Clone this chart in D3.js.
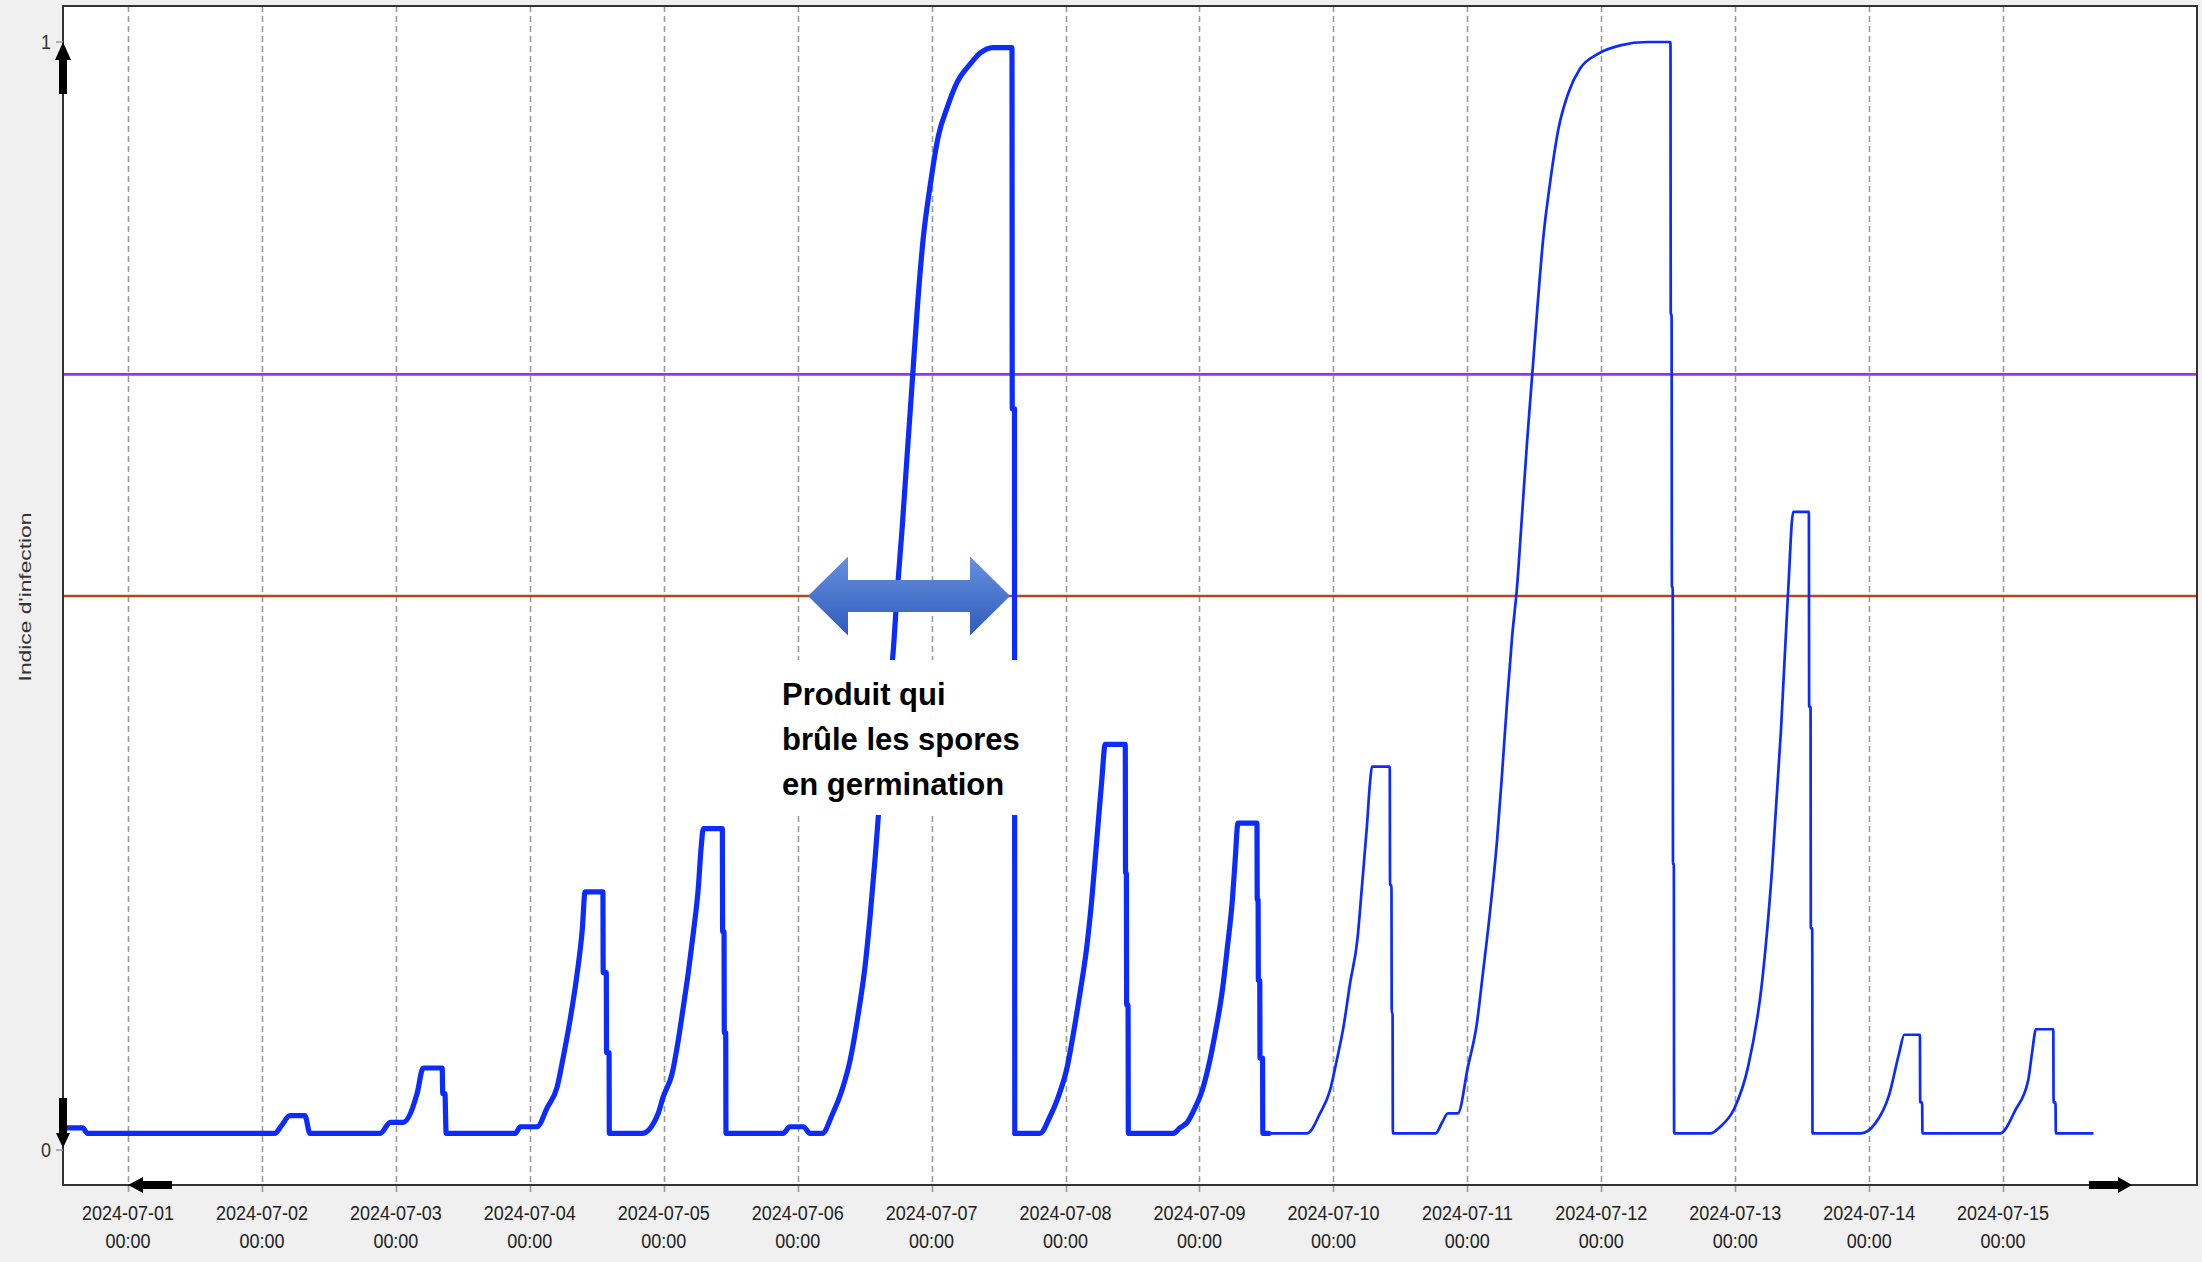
<!DOCTYPE html>
<html><head><meta charset="utf-8">
<script src="https://cdn.jsdelivr.net/npm/d3@7"></script>
<style>
html,body{margin:0;padding:0;background:#f0f0f0;}
svg{display:block;}
</style></head><body>
<svg id="chart" width="2202" height="1262"></svg>
<script>
// ---- DATA (hours since 2024-07-01 00:00, infection index) ----
const observedHours = [-11.65,-8.1,-7.3,26.3,27.5,29.0,31.7,32.6,45.2,47.0,49.3,51.8,52.9,56.3,56.4,56.8,56.9,57.0,
  69.4,70.3,73.3,75.1,76.9,78.0,79.2,80.5,81.4,81.9,85.1,85.15,85.7,85.75,86.2,86.25,
  92.1,95.0,95.9,97.5,98.6,99.5,100.4,101.3,102.2,102.7,103.1,106.5,106.55,106.8,106.85,107.1,107.15,
  117.4,118.6,121.0,122.2,124.4,126.2,128.0,129.4,130.8,132.1,133.0,133.9,134.8,135.6,136.4,137.1,137.8,138.7,139.6,140.5,141.4,142.5,143.7,145.2,146.8,148.6,150.9,152.7,155.0,158.4,158.45,158.85,158.9,
  163.4,165.2,166.7,168.3,169.4,170.6,171.8,172.7,173.6,174.5,175.1,178.7,178.75,178.9,178.95,179.2,179.25,
  187.3,188.5,189.8,191.2,192.5,193.6,194.8,196.1,197.0,197.9,198.4,198.9,202.3,202.35,202.5,202.55,202.8,202.85,203.3,203.35,204.4];
const observedIndex = [0.020,0.020,0.015,0.015,0.022,0.031,0.031,0.015,0.015,0.025,0.025,0.051,0.074,0.074,0.051,0.051,0.032,0.015,
  0.015,0.021,0.021,0.038,0.057,0.084,0.117,0.160,0.199,0.233,0.233,0.160,0.160,0.088,0.088,0.015,
  0.015,0.033,0.048,0.069,0.099,0.129,0.160,0.196,0.237,0.273,0.290,0.290,0.197,0.197,0.106,0.106,0.015,
  0.015,0.021,0.021,0.015,0.015,0.032,0.055,0.081,0.121,0.167,0.212,0.265,0.324,0.372,0.412,0.449,0.501,0.560,0.626,0.691,0.757,0.823,0.869,0.915,0.941,0.964,0.980,0.990,0.995,0.995,0.669,0.669,0.015,
  0.015,0.030,0.048,0.075,0.105,0.142,0.183,0.226,0.280,0.334,0.366,0.366,0.250,0.250,0.131,0.131,0.015,
  0.015,0.020,0.025,0.038,0.054,0.075,0.105,0.144,0.183,0.226,0.262,0.295,0.295,0.226,0.226,0.153,0.153,0.083,0.083,0.015,0.015];
const forecastHours = [204.4,211.3,213.6,215.4,216.6,217.8,219.0,220.3,221.1,222.0,222.6,222.9,226.1,226.15,226.4,226.45,226.6,226.65,
  234.3,235.5,236.5,238.3,240.1,241.7,242.8,244.0,245.3,246.2,247.1,248.0,248.9,249.8,250.7,251.6,252.5,253.6,254.8,256.3,258.1,260.2,263.3,267.4,272.2,276.4,276.45,276.6,276.65,276.8,276.85,277.0,277.05,
  283.6,285.3,287.8,290.3,292.8,294.6,296.2,297.5,298.4,301.2,301.25,301.5,301.55,301.8,301.85,
  310.5,313.1,315.6,317.4,318.3,321.1,321.15,321.5,321.55,
  335.5,338.2,340.5,341.2,341.9,345.0,345.05,345.4,345.45,352.2];
const forecastIndex = [0.015,0.015,0.033,0.054,0.081,0.111,0.151,0.190,0.237,0.292,0.334,0.346,0.346,0.239,0.239,0.124,0.124,0.015,
  0.015,0.025,0.033,0.033,0.075,0.114,0.160,0.212,0.278,0.338,0.403,0.462,0.508,0.573,0.639,0.698,0.757,0.823,0.872,0.921,0.954,0.976,0.989,0.997,1.0,1.0,0.754,0.754,0.508,0.508,0.258,0.258,0.015,
  0.015,0.021,0.037,0.075,0.151,0.253,0.379,0.506,0.576,0.576,0.400,0.400,0.200,0.200,0.015,
  0.015,0.024,0.050,0.088,0.104,0.104,0.043,0.043,0.015,
  0.015,0.036,0.063,0.088,0.109,0.109,0.043,0.043,0.015,0.015];
const thresholdValues = [0.5, 0.7];
const thresholdColors = ["#b8451d", "#a829f2"];
const dayTickLabels = ["2024-07-01","2024-07-02","2024-07-03","2024-07-04","2024-07-05","2024-07-06","2024-07-07","2024-07-08","2024-07-09","2024-07-10","2024-07-11","2024-07-12","2024-07-13","2024-07-14","2024-07-15"];
const timeTickLabel = "00:00";
const yTickValues = [0, 1];
const yAxisTitle = "Indice d'infection";
const annotationLines = ["Produit qui", "brûle les spores", "en germination"];
const arrowSpanHours = [121.85, 158.05];
const arrowValue = 0.5;
const domainHours = [-11.65, 370.75];

// ---- CHART ----
const svg = d3.select("#chart");
const frame = {left: 63, top: 6, right: 2197, bottom: 1185};
const base = Date.UTC(2024, 6, 1);
const toDate = h => new Date(base + h * 3600e3);
const x = d3.scaleUtc().domain(domainHours.map(toDate)).range([frame.left, frame.right]);
const y = d3.scaleLinear().domain([0, 1]).range([1150, 42]);
const FONT = "'Liberation Sans', Arial, sans-serif";

const defs = svg.append("defs");
defs.append("clipPath").attr("id", "plotclip").append("rect")
  .attr("x", frame.left).attr("y", frame.top)
  .attr("width", frame.right - frame.left).attr("height", frame.bottom - frame.top);
const grad = defs.append("linearGradient").attr("id", "arrowgrad")
  .attr("x1", 0).attr("y1", 0).attr("x2", 0).attr("y2", 1);
grad.append("stop").attr("offset", "0%").attr("stop-color", "#6690dc");
grad.append("stop").attr("offset", "100%").attr("stop-color", "#2f5cbd");

// plot background
svg.append("rect").attr("x", frame.left).attr("y", frame.top)
  .attr("width", frame.right - frame.left).attr("height", frame.bottom - frame.top)
  .attr("fill", "#ffffff");

// day ticks
const dayTicks = dayTickLabels.map(s => new Date(s + "T00:00:00Z"));
svg.append("g").selectAll("line").data(dayTicks).join("line")
  .attr("x1", d => Math.round(x(d)) + 0.5).attr("x2", d => Math.round(x(d)) + 0.5)
  .attr("y1", frame.top).attr("y2", frame.bottom + 10)
  .attr("stroke", "#9a9a9a").attr("stroke-width", 1.6).attr("stroke-dasharray", "6,4");

// threshold lines
svg.append("g").selectAll("line").data(thresholdValues).join("line")
  .attr("x1", frame.left).attr("x2", frame.right)
  .attr("y1", d => y(d)).attr("y2", d => y(d))
  .attr("stroke", (d, i) => thresholdColors[i]).attr("stroke-width", 2.6);

// series
const line = d3.line().curve(d3.curveMonotoneX).x(d => x(toDate(d[0]))).y(d => y(d[1]));
const obs = observedHours.map((h, i) => [h, observedIndex[i]]);
const fc = forecastHours.map((h, i) => [h, forecastIndex[i]]);
const gSeries = svg.append("g").attr("clip-path", "url(#plotclip)");
gSeries.append("path").attr("d", line(obs)).attr("fill", "none")
  .attr("stroke", "#0b2bff").attr("stroke-width", 5.2)
  .attr("stroke-linejoin", "round").attr("stroke-linecap", "round");
gSeries.append("path").attr("d", line(fc)).attr("fill", "none")
  .attr("stroke", "#0b2bff").attr("stroke-width", 2.7)
  .attr("stroke-linejoin", "round");

// annotation
const xl = x(toDate(arrowSpanHours[0])), xr = x(toDate(arrowSpanHours[1])), yc = y(arrowValue);
svg.append("rect").attr("x", xl - 32).attr("y", 660).attr("width", xr - xl + 44).attr("height", 155)
  .attr("fill", "#ffffff");
const hl = 40, hh = 39.5, sh = 16;
const arrowPts = [[xl, yc], [xl + hl, yc - hh], [xl + hl, yc - sh], [xr - hl, yc - sh], [xr - hl, yc - hh], [xr, yc],
  [xr - hl, yc + hh], [xr - hl, yc + sh], [xl + hl, yc + sh], [xl + hl, yc + hh]];
svg.append("path").attr("d", "M" + arrowPts.map(p => p.join(",")).join("L") + "Z")
  .attr("fill", "url(#arrowgrad)");
svg.append("g").selectAll("text").data(annotationLines).join("text")
  .attr("x", xl - 26).attr("y", (d, i) => 705 + i * 45)
  .attr("font-family", FONT).attr("font-weight", "bold").attr("font-size", 31)
  .attr("fill", "#000").text(d => d);

// frame
svg.append("rect").attr("x", frame.left).attr("y", frame.top)
  .attr("width", frame.right - frame.left).attr("height", frame.bottom - frame.top)
  .attr("fill", "none").attr("stroke", "#333").attr("stroke-width", 2);

// x tick labels
const gx = svg.append("g").selectAll("g").data(dayTicks).join("g")
  .attr("font-family", FONT).attr("font-size", 18).attr("fill", "#222").attr("text-anchor", "middle");
gx.append("text").attr("transform", d => `translate(${x(d)},1220) scale(1,1.15)`)
  .text((d, i) => dayTickLabels[i]);
gx.append("text").attr("transform", d => `translate(${x(d)},1248) scale(1,1.15)`)
  .text(timeTickLabel);

// y ticks
svg.append("g").selectAll("line").data(yTickValues).join("line")
  .attr("x1", 56).attr("x2", frame.left).attr("y1", d => y(d)).attr("y2", d => y(d))
  .attr("stroke", "#999").attr("stroke-width", 1.5);
svg.append("g").selectAll("text").data(yTickValues).join("text")
  .attr("transform", d => `translate(51,${y(d) + 7}) scale(1,1.15)`)
  .attr("text-anchor", "end").attr("font-family", FONT).attr("font-size", 18).attr("fill", "#333")
  .text(d => d);

// y title
svg.append("text").attr("transform", "translate(25,597) rotate(-90) scale(1.38,1)")
  .attr("text-anchor", "middle").attr("dominant-baseline", "central")
  .attr("font-family", FONT).attr("font-size", 16.5).attr("fill", "#333").text(yAxisTitle);

// axis scroll arrows
const arrows = [
  [[63, 42], [71, 60], [67, 60], [67, 94], [59, 94], [59, 60], [55, 60]],
  [[63, 1148], [70, 1133], [67, 1133], [67, 1098], [59, 1098], [59, 1133], [56, 1133]],
  [[128, 1185], [143, 1177], [143, 1181], [172, 1181], [172, 1189], [143, 1189], [143, 1193]],
  [[2132, 1185], [2118, 1177], [2118, 1181], [2089, 1181], [2089, 1189], [2118, 1189], [2118, 1193]]
];
svg.append("g").selectAll("path").data(arrows).join("path")
  .attr("d", d => "M" + d.map(p => p.join(",")).join("L") + "Z").attr("fill", "#000");
</script>
</body></html>
